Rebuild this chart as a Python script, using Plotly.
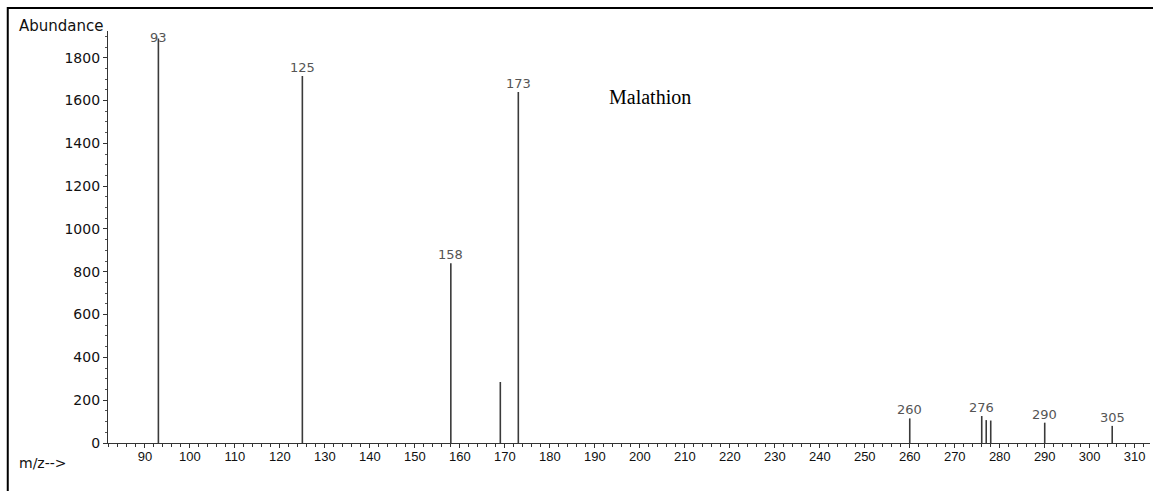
import plotly.graph_objects as go

# Mass spectrum of malathion (EI), m/z vs. abundance
mz = [93, 125, 158, 169, 173, 260, 276, 277, 278, 290, 305]
abundance = [1890, 1715, 840, 285, 1640, 115, 126, 107, 105, 95, 80]
labelled = [93, 125, 158, 173, 260, 276, 290, 305]

x_ticks = list(range(90, 320, 10))
y_ticks = list(range(0, 2000, 200))

# stick spectrum: one vertical segment per ion
xs, ys = [], []
for m, a in zip(mz, abundance):
    xs += [m, m, None]
    ys += [0, a, None]

fig = go.Figure()
fig.add_trace(go.Scatter(x=xs, y=ys, mode="lines",
                         line=dict(color="#3a3a3a", width=1.6),
                         hoverinfo="skip", showlegend=False))

peak_font = dict(family="DejaVu Sans", size=13, color="#555555")
annotations = []
for m, a in zip(mz, abundance):
    if m in labelled:
        annotations.append(dict(
            x=m, y=a, xref="x", yref="y", text=str(m), showarrow=False,
            xanchor="center", yanchor="bottom",
            yshift=-9 if m == 93 else -1,
            font=peak_font))

annotations += [
    dict(x=-0.087, y=0.985, xref="paper", yref="paper", text="Abundance",
         showarrow=False, xanchor="left", yanchor="bottom",
         font=dict(family="DejaVu Sans", size=15, color="#111111")),
    dict(x=-0.087, y=-0.025, xref="paper", yref="paper", text="m/z-->",
         showarrow=False, xanchor="left", yanchor="top",
         font=dict(family="DejaVu Sans", size=14, color="#111111")),
    dict(x=0.52, y=0.84, xref="paper", yref="paper", text="Malathion",
         showarrow=False, xanchor="center", yanchor="middle",
         font=dict(family="Liberation Serif, Times New Roman", size=20, color="#000000")),
]

fig.update_layout(
    width=1153, height=491,
    margin=dict(l=108, r=3, t=31, b=48),
    paper_bgcolor="white", plot_bgcolor="white",
    annotations=annotations,
    shapes=[dict(type="rect", xref="paper", yref="paper",
                 x0=-0.0962, x1=1.02, y0=-0.14, y1=1.056,
                 line=dict(color="black", width=2), layer="above")],
    xaxis=dict(range=[81.8, 313.4], tickvals=x_ticks, showgrid=False,
               zeroline=False, showline=True, linecolor="#333333", linewidth=1.2,
               ticks="outside", ticklen=4, tickwidth=1.2, tickcolor="#333333",
               ticklabelstandoff=-3,
               tickfont=dict(family="Liberation Sans, Arial", size=13, color="#111111"),
               minor=dict(dtick=2, ticks="outside", ticklen=2.5,
                          tickcolor="#333333", showgrid=False)),
    yaxis=dict(range=[0, 1925], tickvals=y_ticks, showgrid=False,
               zeroline=False, showline=True, linecolor="#333333", linewidth=1.2,
               ticks="outside", ticklen=4, tickwidth=1.2, tickcolor="#333333",
               tickfont=dict(family="DejaVu Sans", size=14, color="#111111"),
               minor=dict(dtick=50, ticks="outside", ticklen=2,
                          tickcolor="#555555", showgrid=False)),
)

fig.write_html("out.html")
